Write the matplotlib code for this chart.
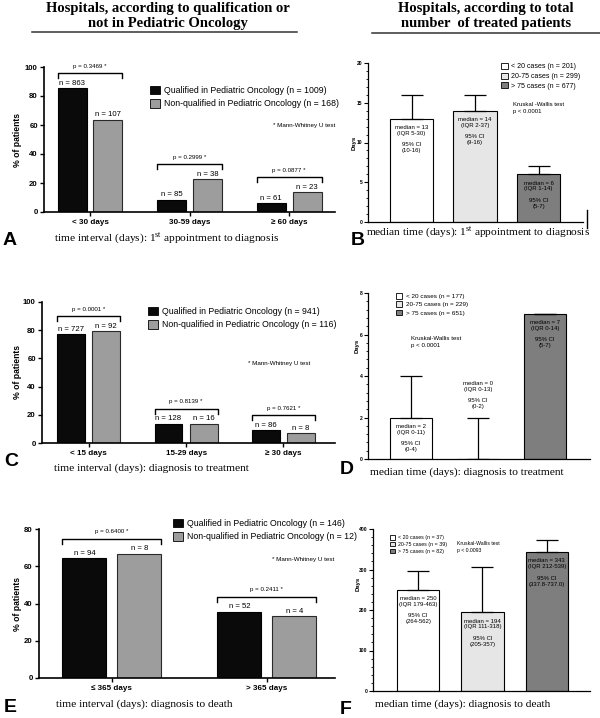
import matplotlib
matplotlib.use('Agg')
import numpy as np
import matplotlib.pyplot as plt
from matplotlib.patches import Patch
from matplotlib.lines import Line2D
from matplotlib.ticker import MultipleLocator, AutoMinorLocator

plt.rcParams['font.family'] = ['Liberation Sans', 'DejaVu Sans']
plt.rcParams['mathtext.fontset'] = 'custom'
plt.rcParams['mathtext.rm'] = 'Liberation Serif'
SERIF = ['Liberation Serif', 'DejaVu Serif']

# ---- left column: % of patients by hospital qualification ----
cats_A = ['< 30 days', '30-59 days', '≥ 60 days']
qual_A = [85.5, 8.4, 6.0]
nonq_A = [63.7, 22.6, 13.7]
nq_A = [863, 85, 61]
nn_A = [107, 38, 23]
p_A = ['0.3469', '0.2999', '0.0877']
leg_A = ['Qualified in Pediatric Oncology (n = 1009)', 'Non-qualified in Pediatric Oncology (n = 168)']

cats_C = ['< 15 days', '15-29 days', '≥ 30 days']
qual_C = [77.3, 13.6, 9.1]
nonq_C = [79.3, 13.8, 6.9]
nq_C = [727, 128, 86]
nn_C = [92, 16, 8]
p_C = ['0.0001', '0.8139', '0.7621']
leg_C = ['Qualified in Pediatric Oncology (n = 941)', 'Non-qualified in Pediatric Oncology (n = 116)']

cats_E = ['≤ 365 days', '> 365 days']
qual_E = [64.4, 35.6]
nonq_E = [66.7, 33.3]
nq_E = [94, 52]
nn_E = [8, 4]
p_E = ['0.6400', '0.2411']
leg_E = ['Qualified in Pediatric Oncology (n = 146)', 'Non-qualified in Pediatric Oncology (n = 12)']

# ---- right column: median days by hospital volume ----
leg_B = ['< 20 cases (n = 201)', '20-75 cases (n = 299)', '> 75 cases (n = 677)']
med_B = [13, 14, 6]
top_B = [16, 16, 7]
iqr_B = ['5-30', '2-37', '1-14']
ci_B = ['10-16', '9-16', '5-7']

leg_D = ['< 20 cases (n = 177)', '20-75 cases (n = 229)', '> 75 cases (n = 651)']
med_D = [2, 0, 7]
top_D = [4, 2, 7]
iqr_D = ['0-11', '0-13', '0-14']
ci_D = ['0-4', '0-2', '5-7']

leg_F = ['< 20 cases (n = 37)', '20-75 cases (n = 39)', '> 75 cases (n = 82)']
med_F = [250, 194, 343]
top_F = [297, 307, 373]
iqr_F = ['179-463', '111-318', '212-539']
ci_F = ['264-562', '205-357', '337.8-737.0']

W, H = 600, 718
fig = plt.figure(figsize=(6, 7.18), dpi=100)


def box(x0, y0, x1, y1):
    # pixel box -> figure fraction
    return [x0 / W, 1 - y1 / H, (x1 - x0) / W, (y1 - y0) / H]


def fx(x):
    return x / W


def fy(y):
    return 1 - y / H


def pct_panel(rect, xlim, ymax, cats, qual, nonq, nq, nn, pv, off, w):
    ax = fig.add_axes(box(*rect))
    x = np.arange(len(cats))
    ax.bar(x - off, qual, w, color='#0a0a0a', edgecolor='black', linewidth=0.8)
    ax.bar(x + off, nonq, w, color='#9d9d9d', edgecolor='#2a2a2a', linewidth=0.8)
    ax.set_xlim(*xlim)
    ax.set_ylim(0, ymax)
    upp = ymax / (rect[3] - rect[1])  # data units per pixel
    for i in range(len(cats)):
        ax.annotate(f'n = {nq[i]}', (x[i] - off, qual[i]), xytext=(0, 1), textcoords='offset points',
                    ha='center', va='bottom', fontsize=5.6)
        ax.annotate(f'n = {nn[i]}', (x[i] + off, nonq[i]), xytext=(0, 1), textcoords='offset points',
                    ha='center', va='bottom', fontsize=5.6)
        yb = max(qual[i], nonq[i]) + 15 * upp
        x0, x1 = x[i] - off - w / 2, x[i] + off + w / 2
        ax.plot([x0, x0, x1, x1], [yb - 5 * upp, yb, yb, yb - 5 * upp], color='black', lw=1.0, clip_on=False)
        ax.annotate(f'p = {pv[i]} *', (x[i], yb), xytext=(0, 5), textcoords='offset points',
                    ha='center', va='center', fontsize=4.4)
    ax.set_xticks(x)
    ax.set_xticklabels(cats, fontsize=5.8, fontweight='bold')
    ax.yaxis.set_major_locator(MultipleLocator(20))
    for t in ax.get_yticklabels():
        t.set_fontweight('bold')
    ax.tick_params(axis='y', labelsize=5.6, length=3, width=1, pad=1.5)
    ax.tick_params(axis='x', length=3, width=1, pad=2)
    for s in ['top', 'right']:
        ax.spines[s].set_visible(False)
    for s in ['left', 'bottom']:
        ax.spines[s].set_linewidth(1.2)
    return ax


def days_panel(rect, xlim, ymax, ystep, med, top, iqr, ci, w, fs):
    ax = fig.add_axes(box(*rect))
    x = np.arange(3)
    colors = ['white', '#e6e6e6', '#7e7e7e']
    ax.bar(x, med, w, color=colors, edgecolor='black', linewidth=0.8)
    err = np.array(top) - np.array(med)
    ax.errorbar(x, med, yerr=[np.zeros(3), err], fmt='none', ecolor='black',
                elinewidth=0.9, capsize=8, capthick=0.9)
    ax.set_xlim(*xlim)
    ax.set_ylim(0, ymax)
    for i in range(3):
        txt = f'median = {med[i]}\n(IQR {iqr[i]})\n\n95% CI\n({ci[i]})'
        if med[i] > 0:
            ax.annotate(txt, (x[i], med[i]), xytext=(0, -4.5), textcoords='offset points',
                        ha='center', va='top', fontsize=fs, linespacing=1.2)
        else:
            ax.annotate(txt, (x[i], top[i]), xytext=(0, 6), textcoords='offset points',
                        ha='center', va='bottom', fontsize=fs, linespacing=1.2)
    ax.set_xticks([])
    ax.yaxis.set_major_locator(MultipleLocator(ystep))
    ax.yaxis.set_minor_locator(AutoMinorLocator(5))
    for t in ax.get_yticklabels():
        t.set_fontweight('bold')
    ax.tick_params(axis='y', which='major', labelsize=3.6, length=3, width=0.8, pad=1)
    ax.tick_params(axis='y', which='minor', length=1.5, width=0.6)
    for s in ['top', 'right']:
        ax.spines[s].set_visible(False)
    for s in ['left', 'bottom']:
        ax.spines[s].set_linewidth(0.9)
    return ax


def bar_legend(labels, colors, xy, fs, hl, sp):
    handles = [Patch(facecolor=c, edgecolor='black', linewidth=0.6) for c in colors]
    fig.legend(handles, labels, loc='upper left', bbox_to_anchor=(fx(xy[0]), fy(xy[1])),
               frameon=False, fontsize=fs, handlelength=hl, handleheight=hl,
               handletextpad=0.5, labelspacing=sp, borderpad=0, borderaxespad=0)


# titles
fig.text(fx(168), fy(16), 'Hospitals, according to qualification or\nnot in Pediatric Oncology',
         ha='center', va='center', fontsize=10.5, fontweight='bold', family=SERIF, linespacing=1.15)
fig.text(fx(486), fy(16), 'Hospitals, according to total\nnumber  of treated patients',
         ha='center', va='center', fontsize=10.5, fontweight='bold', family=SERIF, linespacing=1.15)
fig.add_artist(Line2D([fx(32), fx(297)], [fy(32), fy(32)], color='#333333', lw=1.1))
fig.add_artist(Line2D([fx(372), fx(600)], [fy(33), fy(33)], color='#333333', lw=1.1))

# panel A
axA = pct_panel((44, 67, 335, 212), (-0.462, 2.46), 100, cats_A, qual_A, nonq_A, nq_A, nn_A, p_A, 0.18, 0.29)
bar_legend(leg_A, ['#0a0a0a', '#9d9d9d'], (150, 86), 6.3, 1.1, 0.45)
fig.text(fx(273), fy(125), '* Mann-Whitney U test', fontsize=4.5, va='center')

# panel C
axC = pct_panel((42, 302, 335, 443), (-0.48, 2.53), 100, cats_C, qual_C, nonq_C, nq_C, nn_C, p_C, 0.18, 0.286)
bar_legend(leg_C, ['#0a0a0a', '#9d9d9d'], (148, 307), 6.3, 1.1, 0.45)
fig.text(fx(248), fy(363), '* Mann-Whitney U test', fontsize=4.5, va='center')

# panel E
axE = pct_panel((39, 529, 335, 678), (-0.47, 1.44), 80, cats_E, qual_E, nonq_E, nq_E, nn_E, p_E, 0.177, 0.284)
bar_legend(leg_E, ['#0a0a0a', '#9d9d9d'], (173, 519), 6.3, 1.1, 0.45)
fig.text(fx(272), fy(560), '* Mann-Whitney U test', fontsize=4.5, va='center')

for ax, yc in [(axA, 140), (axC, 372), (axE, 604)]:
    fig.text(fx(18), fy(yc), '% of patients', rotation=90, ha='center', va='center',
             fontsize=6.2, fontweight='bold')

# panel B
axB = days_panel((368, 63, 583, 222), (-0.685, 2.7), 20, 5, med_B, top_B, iqr_B, ci_B, 0.68, 4.3)
bar_legend(leg_B, ['white', '#e6e6e6', '#7e7e7e'], (501, 63), 5.0, 1.0, 0.3)
fig.text(fx(513), fy(108), 'Kruskal -Wallis test\np < 0.0001', fontsize=4.3, va='center', linespacing=1.3)
fig.add_artist(Line2D([fx(587), fx(587)], [fy(210), fy(228)], color='black', lw=1.0))

# panel D
axD = days_panel((368, 293, 590, 459), (-0.64, 2.67), 8, 2, med_D, top_D, iqr_D, ci_D, 0.63, 4.3)
bar_legend(leg_D, ['white', '#e6e6e6', '#7e7e7e'], (396, 293), 4.6, 1.0, 0.35)
fig.text(fx(411), fy(342), 'Kruskal-Wallis test\np < 0.0001', fontsize=4.4, va='center', linespacing=1.3)

# panel F
axF = days_panel((373, 529, 590, 691), (-0.70, 2.67), 400, 100, med_F, top_F, iqr_F, ci_F, 0.66, 4.3)
bar_legend(leg_F, ['white', '#e6e6e6', '#7e7e7e'], (390, 535), 3.8, 1.0, 0.3)
fig.text(fx(457), fy(547), 'Kruskal-Wallis test\np < 0.0093', fontsize=3.7, va='center', linespacing=1.3)

for xc, yc in [(354, 143), (357, 346), (358, 584)]:
    fig.text(fx(xc), fy(yc), 'Days', rotation=90, ha='center', va='center', fontsize=4.3, fontweight='bold')

# axis captions (serif)
captions = [
    (167, 238, 'time interval (days): 1$^{\\mathrm{st}}$ appointment to diagnosis'),
    (478, 232, 'median time (days): 1$^{\\mathrm{st}}$ appointment to diagnosis'),
    (151, 468, 'time interval (days): diagnosis to treatment'),
    (467, 472, 'median time (days): diagnosis to treatment'),
    (144, 704, 'time interval (days): diagnosis to death'),
    (463, 704, 'median time (days): diagnosis to death'),
]
for xc, yc, s in captions:
    fig.text(fx(xc), fy(yc), s, ha='center', va='center', fontsize=8.2, family=SERIF)

# panel letters
for xc, yc, s in [(10, 240, 'A'), (358, 240, 'B'), (11, 461, 'C'), (347, 469, 'D'),
                  (10, 708, 'E'), (346, 710, 'F')]:
    fig.text(fx(xc), fy(yc), s, ha='center', va='center', fontsize=14, fontweight='bold')

fig.savefig('out.png', dpi=100)
